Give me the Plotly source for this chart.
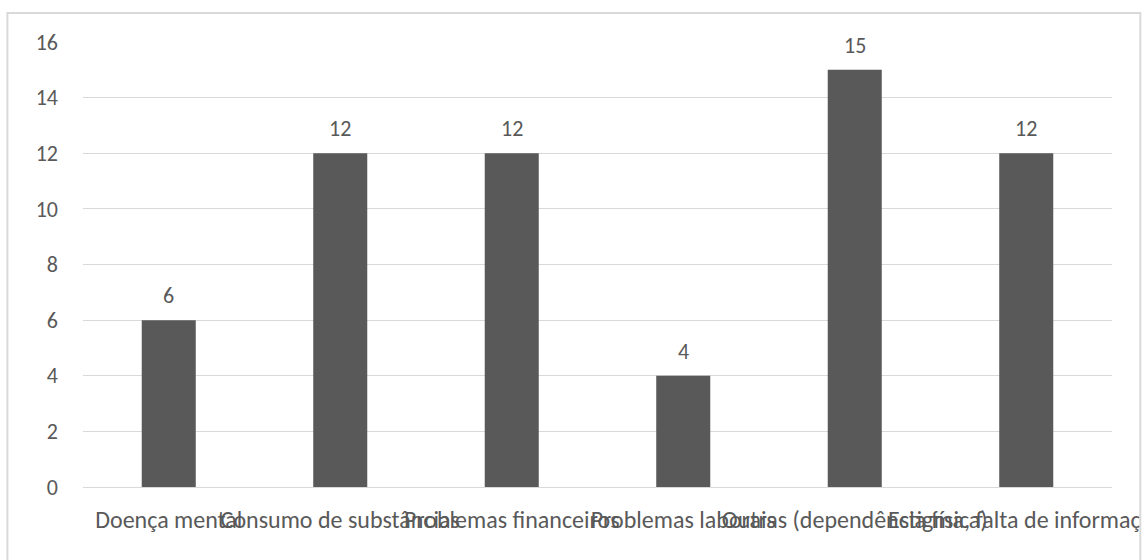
import plotly.graph_objects as go

categories = [
    "Doença mental",
    "Consumo de substâncias",
    "Problemas financeiros",
    "Problemas laborais",
    "Outras (dependência física)",
    "Estigma, falta de informação",
]
values = [6, 12, 12, 4, 15, 12]
y_ticks = [0, 2, 4, 6, 8, 10, 12, 14, 16]

FONT = "Carlito, Calibri, Lato, sans-serif"
GREY = "#595959"

fig = go.Figure(
    go.Bar(
        x=categories,
        y=values,
        marker=dict(color=GREY, line=dict(width=0)),
        hoverinfo="x+y",
    )
)

for c, v in zip(categories, values):
    fig.add_annotation(
        x=c, y=v, text=str(v), showarrow=False, yanchor="bottom", yshift=9,
        font=dict(family=FONT, size=22, color=GREY),
    )

# outer frame and right-edge clipping
fig.add_shape(type="rect", xref="paper", yref="paper", x0=1.0275, x1=1.2, y0=-0.3, y1=1.2,
              fillcolor="white", line=dict(width=0), layer="above")
fig.add_shape(type="rect", xref="paper", yref="paper", x0=-0.0735, x1=1.0275, y0=-0.25, y1=1.065,
              fillcolor="rgba(0,0,0,0)", line=dict(color="#d9d9d9", width=2), layer="above")

fig.update_layout(
    width=1148,
    height=560,
    margin=dict(l=83, r=36, t=42, b=73, autoexpand=False),
    paper_bgcolor="white",
    plot_bgcolor="white",
    bargap=0.685,
    showlegend=False,
    font=dict(family=FONT, size=22, color=GREY),
    xaxis=dict(
        showgrid=False,
        showline=False,
        ticks="",
        tickangle=0,
        automargin=False,
        tickfont=dict(family=FONT, size=24, color=GREY),
        ticklabelstandoff=16,
    ),
    yaxis=dict(
        range=[0, 16],
        tickvals=y_ticks,
        automargin=False,
        showgrid=True,
        gridcolor="#d9d9d9",
        gridwidth=1,
        zeroline=True,
        zerolinecolor="#d9d9d9",
        zerolinewidth=1,
        showline=False,
        ticks="",
        tickfont=dict(family=FONT, size=22, color=GREY),
        ticklabelstandoff=24,
    ),
)

fig.write_html("out.html")
